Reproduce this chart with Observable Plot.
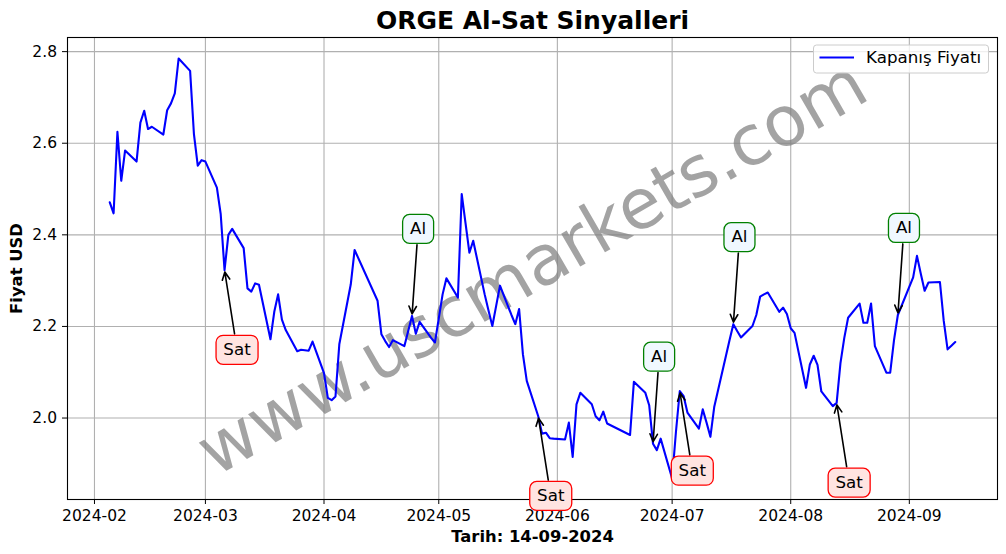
<!DOCTYPE html>
<html>
<head>
<meta charset="utf-8">
<script src="https://cdn.jsdelivr.net/npm/d3@7"></script>
<script src="https://cdn.jsdelivr.net/npm/@observablehq/plot@0.6"></script>
<style>
  body { margin: 0; background: #fff; }
  #chart svg { font-family: "DejaVu Sans", sans-serif; }
</style>
</head>
<body>
<div id="chart"></div>
<script>
// ---- Data ----
const dates = [
  "2024-02-05","2024-02-06","2024-02-07","2024-02-08","2024-02-09",
  "2024-02-12","2024-02-13","2024-02-14","2024-02-15","2024-02-16",
  "2024-02-19","2024-02-20","2024-02-21","2024-02-22","2024-02-23",
  "2024-02-26","2024-02-27","2024-02-28","2024-02-29","2024-03-01",
  "2024-03-04","2024-03-05","2024-03-06","2024-03-07","2024-03-08",
  "2024-03-11","2024-03-12","2024-03-13","2024-03-14","2024-03-15",
  "2024-03-18","2024-03-19","2024-03-20","2024-03-21","2024-03-22",
  "2024-03-25","2024-03-26","2024-03-27","2024-03-28","2024-03-29",
  "2024-04-01","2024-04-02","2024-04-03","2024-04-04","2024-04-05",
  "2024-04-08","2024-04-09","2024-04-15","2024-04-16","2024-04-17",
  "2024-04-18","2024-04-19","2024-04-22","2024-04-24","2024-04-25",
  "2024-04-26","2024-04-29","2024-04-30","2024-05-02","2024-05-03",
  "2024-05-06","2024-05-07","2024-05-08","2024-05-09","2024-05-10",
  "2024-05-13","2024-05-14","2024-05-15","2024-05-16","2024-05-17",
  "2024-05-20","2024-05-21","2024-05-22","2024-05-23","2024-05-24",
  "2024-05-27","2024-05-28","2024-05-29","2024-05-30","2024-05-31",
  "2024-06-03","2024-06-04","2024-06-05","2024-06-06","2024-06-07",
  "2024-06-10","2024-06-11","2024-06-12","2024-06-13","2024-06-14",
  "2024-06-20","2024-06-21","2024-06-24","2024-06-25","2024-06-26",
  "2024-06-27","2024-06-28","2024-07-01","2024-07-02","2024-07-03",
  "2024-07-04","2024-07-05","2024-07-08","2024-07-09","2024-07-10",
  "2024-07-11","2024-07-12","2024-07-16","2024-07-17","2024-07-18",
  "2024-07-19","2024-07-22","2024-07-23","2024-07-24","2024-07-25",
  "2024-07-26","2024-07-29","2024-07-30","2024-07-31","2024-08-01",
  "2024-08-02","2024-08-05","2024-08-06","2024-08-07","2024-08-08",
  "2024-08-09","2024-08-12","2024-08-13","2024-08-14","2024-08-15",
  "2024-08-16","2024-08-19","2024-08-20","2024-08-21","2024-08-22",
  "2024-08-23","2024-08-26","2024-08-27","2024-08-28","2024-08-29",
  "2024-09-02","2024-09-03","2024-09-04","2024-09-05","2024-09-06",
  "2024-09-09","2024-09-10","2024-09-11","2024-09-12","2024-09-13"
];
const closes = [
  2.471,2.447,2.625,2.518,2.584,
  2.560,2.645,2.671,2.631,2.636,
  2.619,2.672,2.687,2.709,2.785,
  2.758,2.620,2.551,2.563,2.560,
  2.503,2.445,2.323,2.400,2.413,
  2.371,2.283,2.276,2.294,2.291,
  2.172,2.232,2.270,2.215,2.192,
  2.146,2.149,2.148,2.147,2.167,
  2.098,2.044,2.039,2.047,2.161,
  2.292,2.367,2.256,2.183,2.168,
  2.155,2.170,2.157,2.223,2.184,
  2.210,2.175,2.165,2.270,2.305,
  2.263,2.489,2.425,2.361,2.387,
  2.270,2.235,2.201,2.245,2.289,
  2.225,2.205,2.238,2.139,2.081,
  2.004,1.966,1.968,1.956,1.955,
  1.953,1.990,1.915,2.030,2.055,
  2.030,2.004,1.995,2.014,1.988,
  1.963,2.079,2.055,2.028,1.944,
  1.930,1.955,1.868,1.970,2.059,
  2.048,2.012,1.977,2.019,1.990,
  1.959,2.024,2.170,2.205,2.190,
  2.176,2.201,2.225,2.265,2.270,
  2.274,2.232,2.241,2.227,2.196,
  2.186,2.066,2.117,2.136,2.116,
  2.058,2.026,2.033,2.120,2.175,
  2.219,2.250,2.208,2.208,2.250,
  2.157,2.099,2.099,2.170,2.225,
  2.307,2.354,2.315,2.278,2.296,
  2.297,2.212,2.150,2.158,2.166
];
const satDates = ["2024-03-06","2024-05-27","2024-07-03","2024-08-13"];
const alDates  = ["2024-04-24","2024-06-26","2024-07-17","2024-08-29"];
const monthTicks = ["2024-02-01","2024-03-01","2024-04-01","2024-05-01","2024-06-01","2024-07-01","2024-08-01","2024-09-01"];
const yTicks = [2.0, 2.2, 2.4, 2.6, 2.8];

const titleText = "ORGE Al-Sat Sinyalleri";
const xLabel = "Tarih: 14-09-2024";
const yLabel = "Fiyat USD";
const legendLabel = "Kapanış Fiyatı";
const watermark = "www.uscmarkets.com";

// ---- Build tables ----
const DAY = 86400000;
const series = dates.map((d, i) => ({date: new Date(d), close: closes[i]}));
const byDate = new Map(series.map(d => [+d.date, d.close]));
const satSignals = satDates.map(d => ({date: new Date(d), close: byDate.get(+new Date(d)), label: "Sat"}));
const alSignals  = alDates.map(d => ({date: new Date(d), close: byDate.get(+new Date(d)), label: "Al"}));

// label offsets (data units)
const satDx = 3.27 * DAY, satDy = -0.174;
const alDx  = 1.6 * DAY,  alDy  = 0.19;
satSignals.forEach(s => { s.lx = new Date(+s.date + satDx); s.ly = s.close + satDy; });
alSignals.forEach(s => { s.lx = new Date(+s.date + alDx); s.ly = s.close + alDy; });
const signals = [...satSignals, ...alSignals];

const [dMin, dMax] = d3.extent(series, d => +d.date);
const [vMin, vMax] = d3.extent(series, d => d.close);
const xDomain = [new Date(dMin - 0.05 * (dMax - dMin)), new Date(dMax + 0.05 * (dMax - dMin))];
const yDomain = [vMin - 0.05 * (vMax - vMin), vMax + 0.05 * (vMax - vMin)];
const monthDates = monthTicks.map(d => new Date(d));

const roundRect = (w, h, r) => ({
  draw(ctx) {
    const x0 = -w / 2, y0 = -h / 2, x1 = w / 2, y1 = h / 2;
    ctx.moveTo(x0 + r, y0);
    ctx.arcTo(x1, y0, x1, y1, r);
    ctx.arcTo(x1, y1, x0, y1, r);
    ctx.arcTo(x0, y1, x0, y0, r);
    ctx.arcTo(x0, y0, x1, y0, r);
    ctx.closePath();
  }
});

const gridStyle = {stroke: "#b0b0b0", strokeOpacity: 1, strokeWidth: 1.1};

const plot = Plot.plot({
  width: 1006,
  height: 554,
  marginLeft: 67,
  marginRight: 9,
  marginTop: 37,
  marginBottom: 55,
  style: {fontFamily: "DejaVu Sans", fontSize: "15.5px", color: "black", background: "white", overflow: "visible"},
  x: {type: "utc", domain: xDomain},
  y: {domain: yDomain},
  marks: [
    Plot.gridX(monthDates, gridStyle),
    Plot.gridY(yTicks, gridStyle),
    Plot.text([watermark], {text: d => d, frameAnchor: "middle", rotate: -30, fontSize: 69.5, fill: "gray", fillOpacity: 0.72}),
    Plot.lineY(series, {x: "date", y: "close", stroke: "blue", strokeWidth: 2.1}),
    Plot.frame({stroke: "black", strokeWidth: 1.1}),
    Plot.axisX({ticks: monthDates, tickFormat: d3.utcFormat("%Y-%m"), tickSize: 5, tickPadding: 5, label: null, fontSize: 15.5}),
    Plot.axisY({ticks: yTicks, tickFormat: d3.format(".1f"), tickSize: 5, tickPadding: 5.5, label: null, fontSize: 15.5}),
    Plot.arrow(signals, {x1: "lx", y1: "ly", x2: "date", y2: "close", stroke: "black", strokeWidth: 1.6,
      headLength: 8, headAngle: 52, insetStart: 16, insetEnd: 2}),
    Plot.dot(satSignals, {x: "lx", y: "ly", symbol: roundRect(42, 29, 7), r: 5, fill: "#ffe4e1", fillOpacity: 1, stroke: "red", strokeWidth: 1.3}),
    Plot.dot(alSignals, {x: "lx", y: "ly", symbol: roundRect(31, 29, 7), r: 5, fill: "#f0f8ff", fillOpacity: 1, stroke: "green", strokeWidth: 1.3}),
    Plot.text(signals, {x: "lx", y: "ly", text: "label", fontSize: 16.7, fill: "black"}),
    Plot.text([titleText], {text: d => d, frameAnchor: "top", lineAnchor: "middle", dy: -17, fontSize: 25, fontWeight: "bold", fill: "black"}),
    Plot.text([xLabel], {text: d => d, frameAnchor: "bottom", lineAnchor: "middle", dy: 37, fontSize: 16.4, fontWeight: "bold", fill: "black"}),
    Plot.text([yLabel], {text: d => d, frameAnchor: "left", textAnchor: "middle", lineAnchor: "middle", rotate: -90, dx: -51, fontSize: 16.4, fontWeight: "bold", fill: "black"})
  ]
});

document.getElementById("chart").append(plot);

// ---- Legend (upper right inside the frame) ----
const svg = d3.select(plot.tagName.toLowerCase() === "svg" ? plot : plot.querySelector("svg"));
const lg = svg.append("g").attr("class", "legend").attr("text-anchor", "start");
lg.append("rect").attr("x", 813.5).attr("y", 45).attr("width", 175).attr("height", 28)
  .attr("rx", 3).attr("fill", "white").attr("fill-opacity", 0.8).attr("stroke", "#cccccc").attr("stroke-width", 1);
lg.append("line").attr("x1", 819.5).attr("x2", 854).attr("y1", 57.5).attr("y2", 57.5)
  .attr("stroke", "blue").attr("stroke-width", 2.1);
lg.append("text").attr("x", 866).attr("y", 57.5).attr("dy", "0.35em").attr("text-anchor", "start")
  .attr("font-size", 16.7).attr("font-family", "DejaVu Sans").attr("fill", "black").text(legendLabel);
</script>
</body>
</html>
